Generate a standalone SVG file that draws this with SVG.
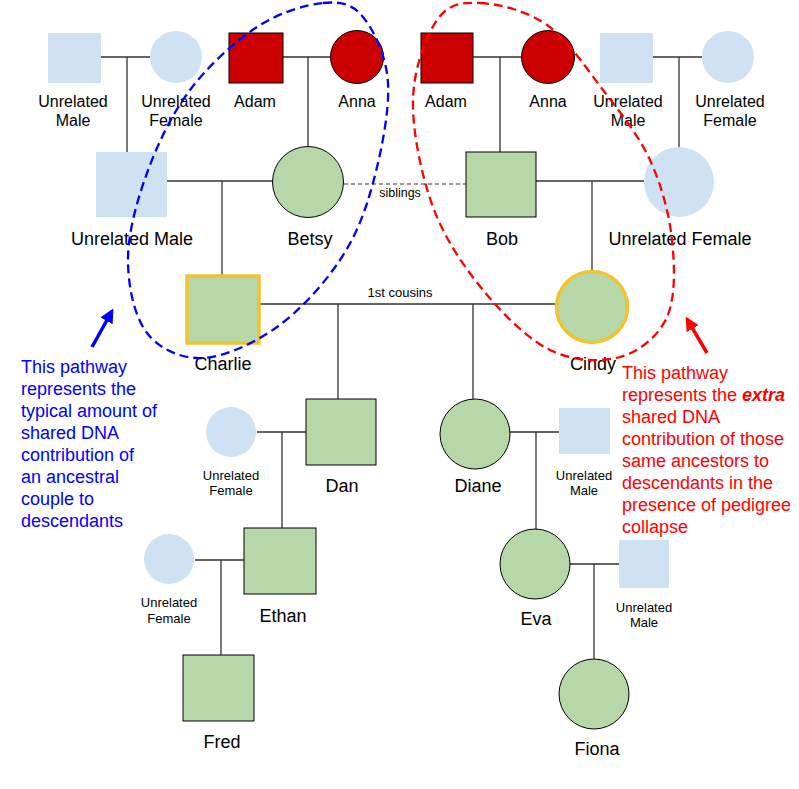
<svg xmlns="http://www.w3.org/2000/svg" width="799" height="789" viewBox="0 0 799 789">
<defs>
<style>
text{font-family:"Liberation Sans",Arial,sans-serif;fill:#000;text-anchor:middle}
.t16{font-size:16px}.t18{font-size:18px}.t13{font-size:13px}
.ub{fill:#cfe2f3}
.rd{fill:#cc0000;stroke:#000;stroke-width:1}
.gr{fill:#b6d7a8;stroke:#000;stroke-width:1}
.gd{fill:#b6d7a8;stroke:#f1c232;stroke-width:3.5}
.ln{stroke:#333;stroke-width:1.3;fill:none}
.note{font-size:18px;text-anchor:start}
.loop{fill:none;stroke-width:2.3;stroke-dasharray:9 5}
</style>
<marker id="ab" viewBox="0 0 10 10" refX="8" refY="5" markerWidth="4" markerHeight="4" orient="auto"><path d="M0,0L10,5L0,10z" fill="#0000ff"/></marker>
<marker id="ar" viewBox="0 0 10 10" refX="8" refY="5" markerWidth="4" markerHeight="4" orient="auto"><path d="M0,0L10,5L0,10z" fill="#ff0000"/></marker>
</defs>
<rect width="799" height="789" fill="#fff"/>
<g id="connectors">
<path class="ln" d="M101,57H150M127,57V152"/>
<path class="ln" d="M283,57H331M308,57V147"/>
<path class="ln" d="M473,57H521M500,57V152"/>
<path class="ln" d="M653,57H702M679,57V147"/>
<path class="ln" d="M167,181H273M222,181V276"/>
<path class="ln" d="M536,181H644M592,181V271"/>
<path d="M344,184H466" stroke="#333" stroke-width="1" stroke-dasharray="4 3" fill="none"/>
<path class="ln" d="M259,304H556M338,304V399M473,304V399"/>
<path class="ln" d="M257,432H306M282,432V528"/>
<path class="ln" d="M510,432H559M536,432V529"/>
<path class="ln" d="M195,560H244M221,560V655"/>
<path class="ln" d="M570,564H619M594,564V659"/>
</g>
<g id="umale1"><rect class="ub" x="48" y="33" width="53" height="50"/><text class="t16" x="73" y="107">Unrelated</text><text class="t16" x="73" y="126">Male</text></g>
<g id="ufemale1"><circle class="ub" cx="176" cy="57" r="26"/><text class="t16" x="176" y="107">Unrelated</text><text class="t16" x="176" y="126">Female</text></g>
<g id="adam1"><rect class="rd" x="229" y="33" width="54" height="50"/><text class="t16" x="255" y="107">Adam</text></g>
<g id="anna1"><circle class="rd" cx="357" cy="57" r="26.5"/><text class="t16" x="357" y="107">Anna</text></g>
<g id="adam2"><rect class="rd" x="421" y="33" width="52" height="50"/><text class="t16" x="446" y="107">Adam</text></g>
<g id="anna2"><circle class="rd" cx="548" cy="57" r="26.5"/><text class="t16" x="548" y="107">Anna</text></g>
<g id="umale2"><rect class="ub" x="600" y="33" width="53" height="50"/><text class="t16" x="628" y="107">Unrelated</text><text class="t16" x="628" y="126">Male</text></g>
<g id="ufemale2"><circle class="ub" cx="728" cy="57" r="26"/><text class="t16" x="730" y="107">Unrelated</text><text class="t16" x="730" y="126">Female</text></g>
<g id="umale3"><rect class="ub" x="96" y="152" width="71" height="65"/><text class="t18" x="132" y="245">Unrelated Male</text></g>
<g id="betsy"><circle class="gr" cx="308" cy="182" r="35.5"/><text class="t18" x="310" y="245">Betsy</text></g>
<g id="bob"><rect class="gr" x="466" y="152" width="70" height="65"/><text class="t18" x="502" y="245">Bob</text></g>
<g id="ufemale3"><circle class="ub" cx="679" cy="182" r="35"/><text class="t18" x="680" y="245">Unrelated Female</text></g>
<g id="siblings"><text x="400" y="197" style="font-size:12.5px">siblings</text></g>
<g id="cousins"><text class="t13" x="400" y="297">1st cousins</text></g>
<g id="charlie"><rect class="gd" x="187" y="276" width="72" height="67"/><text class="t18" x="223" y="370">Charlie</text></g>
<g id="cindy"><circle class="gd" cx="592" cy="307" r="35.5"/><text class="t18" x="593" y="370">Cindy</text></g>
<g id="ufemale4"><circle class="ub" cx="231" cy="432" r="25"/><text class="t13" x="231" y="480">Unrelated</text><text class="t13" x="231" y="495">Female</text></g>
<g id="dan"><rect class="gr" x="306" y="399" width="70" height="66"/><text class="t18" x="342" y="492">Dan</text></g>
<g id="diane"><circle class="gr" cx="475" cy="434" r="35"/><text class="t18" x="478" y="492">Diane</text></g>
<g id="umale4"><rect class="ub" x="559" y="408" width="51" height="46"/><text class="t13" x="584" y="480">Unrelated</text><text class="t13" x="584" y="495">Male</text></g>
<g id="ufemale5"><circle class="ub" cx="169" cy="559" r="25"/><text class="t13" x="169" y="607">Unrelated</text><text class="t13" x="169" y="623">Female</text></g>
<g id="ethan"><rect class="gr" x="244" y="528" width="72" height="66"/><text class="t18" x="283" y="622">Ethan</text></g>
<g id="eva"><circle class="gr" cx="535" cy="564" r="35"/><text class="t18" x="536" y="625">Eva</text></g>
<g id="umale5"><rect class="ub" x="619" y="540" width="50" height="48"/><text class="t13" x="644" y="612">Unrelated</text><text class="t13" x="644" y="627">Male</text></g>
<g id="fred"><rect class="gr" x="183" y="655" width="71" height="66"/><text class="t18" x="222" y="748">Fred</text></g>
<g id="fiona"><circle class="gr" cx="594" cy="694" r="35"/><text class="t18" x="597" y="755">Fiona</text></g>
<g id="blue-pathway">
<path class="loop" stroke="#0000ff" d="M323,3C340.7,1.3 352.2,3.7 363,17C373.8,30.3 386.3,55.3 388,83C389.7,110.7 381,153.5 373,183C365,212.5 356,236 340,260C324,284 299.8,310.7 277,327C254.2,343.3 224.7,357 203,358C181.3,359 159.5,349.3 147,333C134.5,316.7 128,286.7 128,260C128,233.3 136.7,201.3 147,173C157.3,144.7 171.7,114.3 190,90C208.3,65.7 234.8,41.5 257,27C279.2,12.5 305.3,4.7 323,3Z"/>
<line x1="92" y1="347" x2="112" y2="311" stroke="#0000ff" stroke-width="3.5" marker-end="url(#ab)"/>
<text class="note" x="21" y="373" style="fill:#0000ff"><tspan x="21" y="373">This pathway</tspan><tspan x="21" y="395">represents the</tspan><tspan x="21" y="417">typical amount of</tspan><tspan x="21" y="439">shared DNA</tspan><tspan x="21" y="461">contribution of</tspan><tspan x="21" y="483">an ancestral</tspan><tspan x="21" y="505">couple to</tspan><tspan x="21" y="527">descendants</tspan></text>
</g>
<g id="red-pathway">
<path class="loop" stroke="#ff0000" d="M480,3C498.3,3.8 526.5,10.5 547,25C567.5,39.5 585.8,67.5 603,90C620.2,112.5 638.5,135 650,160C661.5,185 669.2,213.8 672,240C674.8,266.2 675.7,297.5 667,317C658.3,336.5 639.5,351.5 620,357C600.5,362.5 572.8,361.2 550,350C527.2,338.8 502.5,313.8 483,290C463.5,266.2 444.7,238.7 433,207C421.3,175.3 412.3,131.2 413,100C413.7,68.8 425.8,36.2 437,20C448.2,3.8 461.7,2.2 480,3Z"/>
<line x1="707" y1="353" x2="687" y2="319" stroke="#ff0000" stroke-width="3.5" marker-end="url(#ar)"/>
<text class="note" x="622" y="379" style="fill:#ff0000"><tspan x="622" y="379">This pathway</tspan><tspan x="622" y="401">represents the <tspan font-weight="bold" font-style="italic">extra</tspan></tspan><tspan x="622" y="423">shared DNA</tspan><tspan x="622" y="445">contribution of those</tspan><tspan x="622" y="467">same ancestors to</tspan><tspan x="622" y="489">descendants in the</tspan><tspan x="622" y="511">presence of pedigree</tspan><tspan x="622" y="533">collapse</tspan></text>
</g>
</svg>
